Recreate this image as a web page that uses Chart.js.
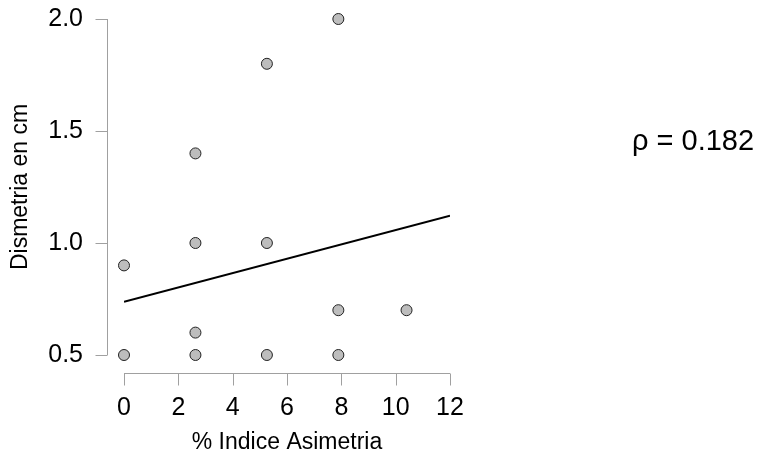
<!DOCTYPE html>
<html>
<head>
<meta charset="utf-8">
<script src="https://cdn.jsdelivr.net/npm/chart.js@4/dist/chart.umd.min.js"></script>
<style>
  html, body { margin: 0; padding: 0; background: #fff; }
  #wrap { width: 758px; height: 457px; }
</style>
</head>
<body>
<div id="wrap"><canvas id="chart" width="758" height="457"></canvas></div>
<script>
// % Indice Asimetria vs Dismetria en cm
const asimetria = [0, 0, 2.63, 2.63, 2.63, 2.63, 5.26, 5.26, 5.26, 7.89, 7.89, 7.89, 10.4];
const dismetria = [0.5, 0.9, 0.5, 0.6, 1.0, 1.4, 0.5, 1.0, 1.8, 0.5, 0.7, 2.0, 0.7];
// fitted line, end points
const fitX = [0, 12];
const fitY = [0.738, 1.122];
const xTicks = [0, 2, 4, 6, 8, 10, 12];
const yTicks = [0.5, 1.0, 1.5, 2.0];
const rhoText = '\u03c1 = 0.182';

const font = 'Liberation Sans, Arial, sans-serif';
const axisGray = '#a0a0a0';

// R style axes: detached lines with outward ticks
const rAxes = {
  id: 'rAxes',
  afterDraw(chart) {
    const ctx = chart.ctx;
    const xs = chart.scales.x, ys = chart.scales.y;
    const area = chart.chartArea;
    ctx.save();
    ctx.strokeStyle = axisGray;
    ctx.lineWidth = 1;
    // x axis
    const ay = area.bottom + 18.5;
    ctx.beginPath();
    ctx.moveTo(xs.getPixelForValue(xTicks[0]), ay);
    ctx.lineTo(xs.getPixelForValue(xTicks[xTicks.length - 1]), ay);
    xTicks.forEach(t => {
      const px = Math.round(xs.getPixelForValue(t)) + 0.5;
      ctx.moveTo(px, ay);
      ctx.lineTo(px, ay + 12);
    });
    ctx.stroke();
    // y axis
    const ax = area.left - 16.5;
    ctx.beginPath();
    ctx.moveTo(ax, ys.getPixelForValue(yTicks[0]));
    ctx.lineTo(ax, ys.getPixelForValue(yTicks[yTicks.length - 1]));
    yTicks.forEach(t => {
      const py = Math.round(ys.getPixelForValue(t)) + 0.5;
      ctx.moveTo(ax, py);
      ctx.lineTo(ax - 12, py);
    });
    ctx.stroke();
    // correlation text
    ctx.fillStyle = '#000';
    ctx.font = '29px ' + font;
    ctx.textAlign = 'left';
    ctx.textBaseline = 'alphabetic';
    ctx.fillText(rhoText, 632, 150);
    ctx.restore();
  }
};

new Chart(document.getElementById('chart'), {
  type: 'scatter',
  data: {
    datasets: [
      {
        type: 'line',
        data: fitX.map((x, i) => ({ x, y: fitY[i] })),
        borderColor: '#000',
        borderWidth: 2,
        pointRadius: 0,
        fill: false
      },
      {
        data: asimetria.map((x, i) => ({ x, y: dismetria[i] })),
        backgroundColor: '#bdbdbd',
        borderColor: '#222',
        borderWidth: 1,
        pointRadius: 5.5,
        clip: false
      }
    ]
  },
  options: {
    responsive: false,
    animation: false,
    layout: { padding: { left: 0, right: 308, top: 19, bottom: 0 } },
    plugins: { legend: { display: false }, tooltip: { enabled: false } },
    scales: {
      x: {
        type: 'linear',
        min: 0, max: 12,
        afterFit: s => { s.height = 102; },
        afterBuildTicks: s => { s.ticks = xTicks.map(v => ({ value: v })); },
        // invisible tick marks used only to push labels away from the plot
        grid: { display: false, drawTicks: true, tickLength: 38 },
        border: { display: false },
        ticks: { color: '#000', font: { family: font, size: 25 }, padding: 0, maxRotation: 0 },
        title: { display: true, text: '% Indice Asimetria', color: '#000', font: { family: font, size: 23 }, padding: { top: 0, bottom: 1 } }
      },
      y: {
        type: 'linear',
        min: 0.5, max: 2.0,
        afterFit: s => { s.width = 124; },
        afterBuildTicks: s => { s.ticks = yTicks.map(v => ({ value: v })); },
        grid: { display: false, drawTicks: true, tickLength: 41 },
        border: { display: false },
        ticks: { color: '#000', font: { family: font, size: 25 }, padding: 0, callback: v => v.toFixed(1) },
        title: { display: true, text: 'Dismetria en cm', color: '#000', font: { family: font, size: 23 }, padding: { top: 7, bottom: 0 } }
      }
    }
  },
  plugins: [rAxes]
});
</script>
</body>
</html>
